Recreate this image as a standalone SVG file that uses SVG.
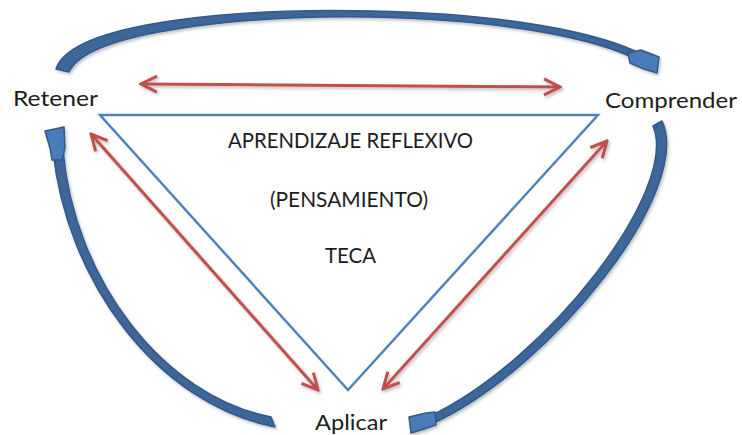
<svg xmlns="http://www.w3.org/2000/svg" width="742" height="435" viewBox="0 0 742 435">
  <style>
    .lbl { font-family: Lato, "Open Sans", "Liberation Sans", sans-serif; font-size: 21.5px; fill: #1c1c1c; }
    .tri { fill: none; stroke: #4F81BD; stroke-width: 2.5; }
    .red { fill: none; stroke: #C0504D; stroke-width: 3; marker-start: url(#rh); marker-end: url(#rh); }
    .band { fill: #3D6699; stroke: #34588A; stroke-width: 1.5; stroke-linejoin: round; }
    .head { fill: #4A7CB9; stroke: #34588A; stroke-width: 1.5; stroke-linejoin: round; }
  </style>
  <defs>
    <marker id="rh" markerUnits="userSpaceOnUse" viewBox="0 0 20 20" markerWidth="20" markerHeight="20" refX="18" refY="10" orient="auto-start-reverse">
      <path d="M2,2 L18,10 L2,18" fill="none" stroke="#C0504D" stroke-width="3" stroke-linejoin="miter"/>
    </marker>
    <filter id="sh" x="-10%" y="-10%" width="120%" height="120%">
      <feDropShadow dx="1.5" dy="2" stdDeviation="1.5" flood-color="#000" flood-opacity="0.25"/>
    </filter>
  </defs>
  <rect width="742" height="435" fill="#ffffff"/>

  <g id="triangle">
    <polygon class="tri" points="100,115 598,115 348,390"/>
  </g>

  <g id="connectors" filter="url(#sh)">
    <path class="red" d="M141,84 L560,87"/>
    <path class="red" d="M91,134 L318,390"/>
    <path class="red" d="M607,141 L383,389"/>
    <g id="arc-top">
      <path class="band" d="M56,69 C72,20 250,8 371,11 C480,13 582,27 635,51 L632,57 C578,33 480,19 371,17 C252,15 88,30 69,72 Z"/>
      <polygon class="head" points="628,53 641,50 659,57 657,73 644,69 630,63"/>
    </g>
    <g id="arc-left">
      <path class="band" d="M275,427 C157,404 66,281 53,150 L63,150 C74,279 163,396 271,417 Z"/>
      <polygon class="head" points="45,131 64,127 65,148 62,160 52,160 50,148"/>
    </g>
    <g id="arc-right">
      <path class="band" d="M662,121 C694,190 553,367 434,423 L430,416 C546,361 680,190 653,126 Z"/>
      <polygon class="head" points="409,417 426,413 435,412 436,425 424,429 411,433"/>
    </g>
  </g>

  <g id="node-retener"><text class="lbl" x="13" y="106" textLength="85" lengthAdjust="spacingAndGlyphs">Retener</text></g>
  <g id="node-comprender"><text class="lbl" x="605" y="108" textLength="132" lengthAdjust="spacingAndGlyphs">Comprender</text></g>
  <g id="node-aplicar"><text class="lbl" x="315" y="430" textLength="72" lengthAdjust="spacingAndGlyphs">Aplicar</text></g>
  <g id="node-center">
    <text class="lbl" x="228" y="148" textLength="245" lengthAdjust="spacingAndGlyphs">APRENDIZAJE REFLEXIVO</text>
    <text class="lbl" x="270" y="207" textLength="158" lengthAdjust="spacingAndGlyphs">(PENSAMIENTO)</text>
    <text class="lbl" x="325" y="263" textLength="51" lengthAdjust="spacingAndGlyphs">TECA</text>
  </g>
</svg>
